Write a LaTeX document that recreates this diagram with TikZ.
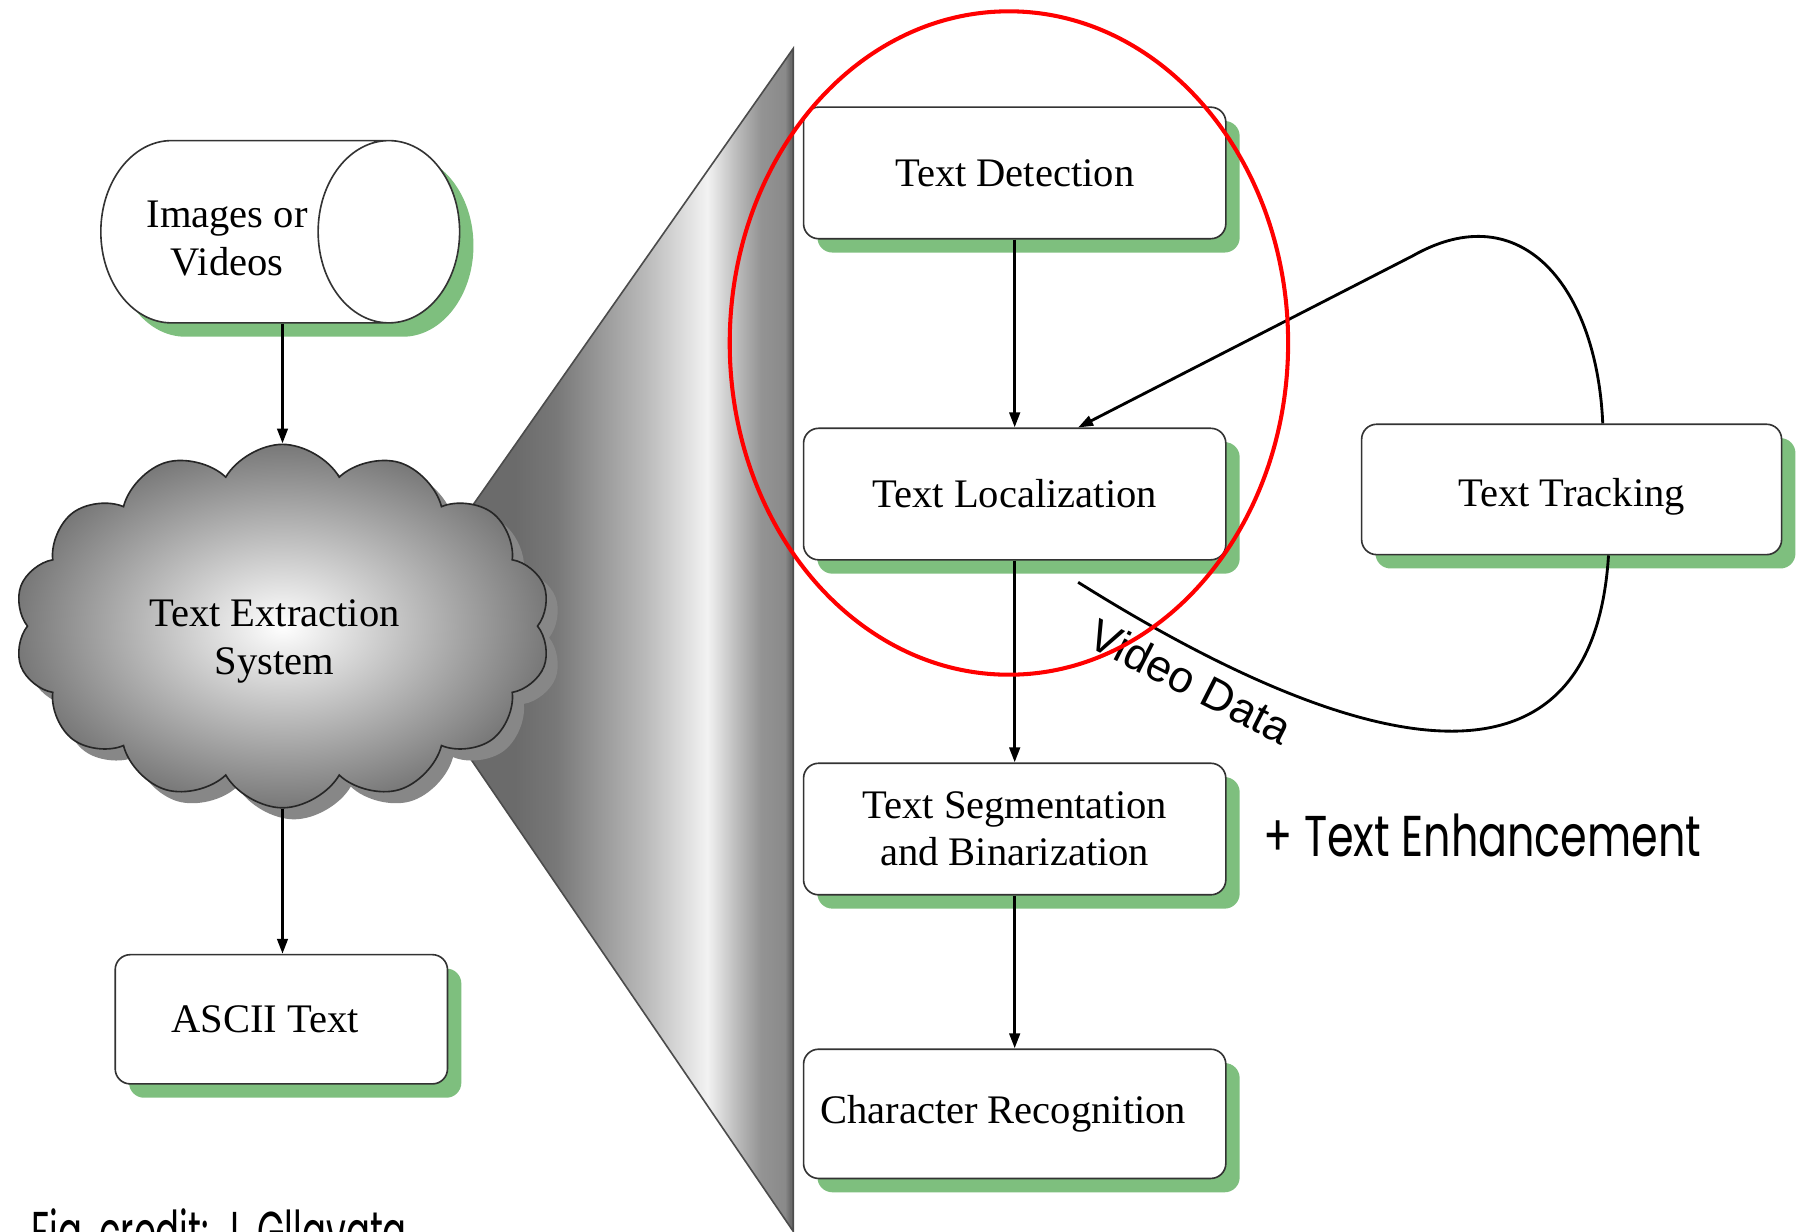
\documentclass[tikz,border=0pt]{standalone}
\usepackage{fontspec}
\setmainfont{Liberation Serif}
\newfontfamily\arialfont{Liberation Sans}
\newfontfamily\futfont{Poppins}
\usetikzlibrary{shapes.geometric,shapes.symbols,shadows,arrows.meta,calc}
\definecolor{shgreen}{RGB}{126,191,126}
\definecolor{cloudshadow}{RGB}{135,135,135}
\pgfdeclarehorizontalshading{funnelshade}{100bp}{rgb(0bp)=(.40,.40,.40); rgb(41bp)=(.42,.42,.42); rgb(46bp)=(.47,.47,.47); rgb(57bp)=(.73,.73,.73); rgb(64.5bp)=(.95,.95,.95); rgb(68bp)=(.74,.74,.74); rgb(71bp)=(.58,.58,.58); rgb(74bp)=(.54,.54,.54); rgb(74.6bp)=(.42,.42,.42); rgb(75bp)=(.42,.42,.42); rgb(100bp)=(.42,.42,.42)}
\begin{document}
\begin{tikzpicture}[x=0.01cm, y=-0.01cm,
  boxtext/.style={font=\fontsize{10}{11.7}\selectfont, align=center},
  greenshadow/.style={drop shadow={shadow xshift=0.12cm, shadow yshift=-0.12cm, fill=shgreen, opacity=1}},
  stepbox/.style={boxtext, draw=black!80, line width=0.4pt, fill=white, rounded corners=0.13cm,
    minimum width=3.66cm, minimum height=1.14cm, inner sep=0pt, greenshadow},
  flow/.style={line width=0.75pt, -{Triangle[length=0.13cm,width=0.09cm]}},
  loopline/.style={line width=0.7pt},
  bigsans/.style={font=\futfont\fontsize{14.2}{16}\selectfont, inner sep=0pt}
]
\useasboundingbox (0,0) rectangle (1568,1068);
\clip (0,0) rectangle (1568,1068);

% funnel
\fill[shading=funnelshade] (333,548) -- (688,42) -- (688,1068) -- cycle;
\draw[black!70, line width=0.4pt] (333,548) -- (688,42) -- (688,1068) -- cycle;

% cloud
\node[cloud, cloud puffs=14, cloud puff arc=120, aspect=1.5, minimum width=4.65cm, minimum height=3.15cm,
  draw=black!85, line width=0.4pt, shading=radial, inner color=white, outer color={rgb,255:red,120;green,120;blue,120},
  boxtext, inner sep=0pt,
  drop shadow={shadow xshift=0.1cm, shadow yshift=-0.1cm, fill=cloudshadow, opacity=1}]
  (tes) at (245,543) {\kern-0.14cm\rule{0pt}{0.5cm}Text Extraction\\\kern-0.14cm System};

% cylinder
\node[cylinder, shape aspect=1.6, draw=black!80, line width=0.4pt, fill=white,
  minimum width=1.58cm, minimum height=3.11cm, inner sep=0pt, boxtext, greenshadow]
  (img) at (212,201) {\kern-0.30cm\rule{0pt}{0.35cm}Images or\\\kern-0.30cm Videos};

% boxes
\node[stepbox, minimum width=2.88cm, minimum height=1.12cm] (ascii) at (244,884) {ASCII Text\hspace{0.28cm}};
\node[stepbox] (det) at (880,150) {Text Detection};
\node[stepbox] (loc) at (880,428.5) {Text Localization};
\node[stepbox] (seg) at (880,719) {Text Segmentation\\and Binarization};
\node[stepbox, minimum height=1.12cm] (chr) at (880,966) {Character Recognition\hspace{0.2cm}};
\node[stepbox, minimum width=3.64cm, minimum height=1.13cm, text depth=0pt] (trk) at (1363,424.5) {\rule{0pt}{0.3cm}Text Tracking};

% arrows
\draw[flow] (tes.north |- img.south) -- (tes.north);
\draw[flow] (tes.south) -- (tes.south |- ascii.north);
\draw[flow] (det.south) -- (loc.north);
\draw[flow] (loc.south) -- (seg.north);
\draw[flow] (seg.south) -- (chr.north);

% tracking loop
\coordinate (vd) at (935,505);
\draw[loopline] (vd) .. controls (1150,640) and (1380,720) .. ($(trk.south)+(32,0)$)
  node[pos=0.17, sloped, below, font=\arialfont\fontsize{11}{13}\selectfont, inner sep=3pt] {Video Data};
\draw[loopline, -{Triangle[length=0.13cm,width=0.09cm]}] ($(trk.north)+(27,0)$) .. controls (1385,250) and (1320,168) .. (1225,222) -- ($(loc.north)+(55,0)$);

% red ellipse
\draw[red, line width=1pt] (875,297.5) ellipse [x radius=2.42cm, y radius=2.875cm];

% annotations
\node[bigsans, anchor=base west] (enh) at (1095,743) {\scalebox{0.745}[1]{+ Text Enhancement}};
\node[bigsans, anchor=base west] (cred) at (27,1086) {\scalebox{0.615}[1]{Fig.\ credit: J.\ Gllavata}};
\end{tikzpicture}
\end{document}
